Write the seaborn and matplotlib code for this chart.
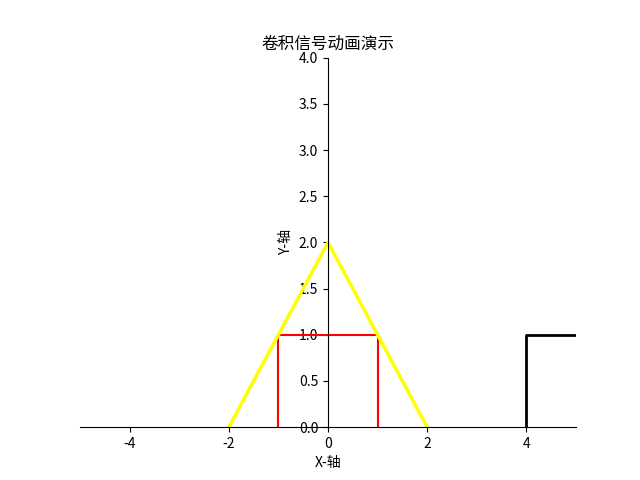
import numpy as np
import pandas as pd
import matplotlib
matplotlib.use('Agg')
import matplotlib.pyplot as plt
import seaborn as sns

## signals (piecewise corner points)
rect_x = [-1, -1, 1, 1]
rect_y = [0, 1, 1, 0]

tri_x = [-2, 0, 2]
tri_y = [0, 2, 0]

step_x = [4, 4, 6]
step_y = [0, 1, 1]

plt.rcParams['font.family'] = ['Noto Sans CJK SC', 'DejaVu Sans']
plt.rcParams['axes.unicode_minus'] = False

fig, ax = plt.subplots(figsize=(6.4, 4.8), dpi=100)

sns.lineplot(x=step_x, y=step_y, sort=False, estimator=None, color='black', linewidth=2, ax=ax)
sns.lineplot(x=rect_x, y=rect_y, sort=False, estimator=None, color='red', linewidth=1.5, ax=ax)
sns.lineplot(x=tri_x, y=tri_y, sort=False, estimator=None, color='yellow', linewidth=2.5, ax=ax)

ax.set_xlim(-5, 5)
ax.set_ylim(0, 4)

## move spines to the origin
ax.spines['left'].set_position('zero')
ax.spines['bottom'].set_position('zero')
ax.spines['right'].set_visible(False)
ax.spines['top'].set_visible(False)

ax.set_title('卷积信号动画演示')
ax.set_xlabel('X-轴')
ax.set_ylabel('Y-轴')

fig.savefig('out.png', dpi=100)
